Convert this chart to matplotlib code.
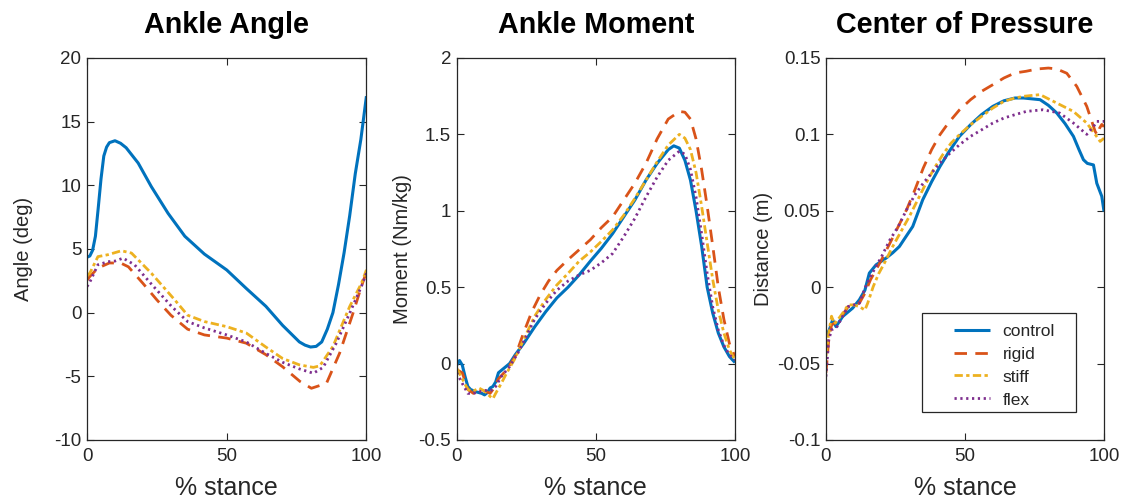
import numpy as np
import matplotlib
matplotlib.use("Agg")
import matplotlib.pyplot as plt
from matplotlib.patches import Rectangle

plt.rcParams['font.family'] = ['Liberation Sans', 'DejaVu Sans']

# ---------------- data ----------------
# Panel 1: Ankle Angle (deg)
ang_ctrl_x = [0, 1, 2, 3, 4, 5, 6, 7, 8, 10, 12, 14, 18.3, 23, 29, 35, 42, 50, 57, 64, 70, 76, 78, 80, 82, 84, 86, 88, 90, 92, 94, 96, 98, 100]
ang_ctrl_y = [4.35, 4.45, 4.9, 6.0, 8.2, 10.5, 12.3, 13.0, 13.35, 13.5, 13.3, 12.95, 11.75, 9.9, 7.8, 6.0, 4.6, 3.35, 1.9, 0.5, -1.0, -2.3, -2.55, -2.7, -2.65, -2.3, -1.3, 0.0, 2.2, 4.7, 7.6, 10.9, 13.6, 17.0]

ang_stiff_x = [0, 1, 3.9, 7.5, 12.3, 15.9, 23, 31.4, 36, 42, 50, 57, 64, 70, 76, 81, 83.3, 88, 94, 98.2, 100]
ang_stiff_y = [2.9, 3.1, 4.4, 4.55, 4.86, 4.68, 3.1, 1.0, -0.2, -0.7, -1.1, -1.6, -2.7, -3.6, -4.1, -4.3, -4.18, -2.66, 0.48, 2.3, 3.36]

ang_flex_x = [0, 1, 3.9, 7.5, 10, 12.9, 17, 23, 30.3, 36, 42, 50, 57, 64, 70, 76, 81, 84.5, 89.2, 94, 98.2, 100]
ang_flex_y = [2.05, 2.4, 3.76, 4.0, 4.05, 4.28, 3.76, 2.25, 0.48, -0.7, -1.2, -1.75, -2.3, -3.2, -3.9, -4.42, -4.76, -4.3, -2.4, -0.04, 2.06, 3.1]

ang_rigid_x = [0, 1, 3.9, 8, 12, 14.8, 20, 25, 30, 36, 42, 50, 57, 64, 70, 76.2, 80.3, 85.7, 90.4, 95.2, 98.2, 100]
ang_rigid_y = [2.55, 2.84, 3.5, 3.9, 3.9, 3.6, 2.3, 1.0, -0.2, -1.3, -1.75, -2.0, -2.4, -3.3, -4.25, -5.4, -5.94, -5.55, -3.18, -0.04, 2.06, 3.2]

# Panel 2: Ankle Moment (Nm/kg)
mom_ctrl_x = [0, 1, 2, 3, 4, 5, 7, 9, 10, 11, 12, 13, 14, 15, 17, 19, 21, 24, 28, 32, 36, 40, 44, 48, 52, 56, 60, 64, 68, 72, 76, 78, 80, 82, 84, 86, 88, 90, 92, 94, 96, 98, 100]
mom_ctrl_y = [-0.01, 0.02, -0.01, -0.085, -0.15, -0.17, -0.185, -0.195, -0.205, -0.19, -0.16, -0.15, -0.12, -0.06, -0.03, 0.0, 0.057, 0.13, 0.24, 0.34, 0.43, 0.50, 0.58, 0.67, 0.755, 0.85, 0.96, 1.07, 1.20, 1.31, 1.40, 1.425, 1.41, 1.33, 1.2, 1.0, 0.77, 0.50, 0.33, 0.2, 0.11, 0.046, 0.007]

mom_rigid_x = [0, 2, 4, 6, 8, 10, 12, 13, 15, 18, 21, 24, 27, 30, 33, 36, 40, 44, 48, 52, 56, 60, 64, 68, 72, 76, 80, 82, 84, 86, 88, 90, 92, 94, 96, 98, 100]
mom_rigid_y = [-0.04, -0.06, -0.17, -0.195, -0.17, -0.18, -0.195, -0.17, -0.1, -0.04, 0.046, 0.2, 0.34, 0.45, 0.54, 0.61, 0.68, 0.745, 0.81, 0.89, 0.96, 1.07, 1.18, 1.31, 1.47, 1.60, 1.65, 1.645, 1.60, 1.47, 1.27, 1.03, 0.77, 0.50, 0.29, 0.13, 0.046]

mom_stiff_x = [0, 2, 4, 6, 8, 10, 12, 13, 14, 16, 18, 21, 24, 28, 32, 36, 40, 44, 48, 52, 56, 60, 64, 68, 72, 76, 80, 82, 84, 86, 88, 90, 92, 94, 96, 98, 100]
mom_stiff_y = [-0.03, -0.1, -0.17, -0.18, -0.16, -0.18, -0.215, -0.23, -0.195, -0.13, -0.06, 0.035, 0.155, 0.31, 0.42, 0.515, 0.59, 0.67, 0.73, 0.80, 0.875, 0.97, 1.08, 1.20, 1.32, 1.43, 1.50, 1.475, 1.40, 1.25, 1.03, 0.79, 0.55, 0.35, 0.2, 0.09, 0.024]

mom_flex_x = [0, 2, 4, 6, 8, 10, 12, 14, 16, 19, 22, 25, 28, 32, 36, 40, 44, 48, 52, 56, 60, 64, 68, 72, 76, 80, 82, 84, 86, 88, 90, 92, 94, 96, 98, 100]
mom_flex_y = [-0.06, -0.13, -0.195, -0.195, -0.185, -0.175, -0.18, -0.15, -0.085, -0.02, 0.07, 0.18, 0.29, 0.395, 0.48, 0.54, 0.58, 0.61, 0.66, 0.72, 0.83, 0.95, 1.09, 1.22, 1.33, 1.39, 1.37, 1.27, 1.09, 0.85, 0.59, 0.37, 0.22, 0.12, 0.057, 0.024]

# Panel 3: Center of Pressure (m)
cop_ctrl_x = [0, 1.2, 2.4, 3.6, 6, 9.6, 12, 14, 15.6, 18, 21.6, 24, 26.4, 28, 31.2, 34.8, 38, 41, 44, 48, 52, 56, 60, 64, 68, 71, 77, 80, 83, 86, 89, 91, 92.6, 94, 96.2, 97.4, 99.2, 100]
cop_ctrl_y = [-0.032, -0.028, -0.0214, -0.0258, -0.0192, -0.0137, -0.0083, -0.002, 0.0092, 0.0146, 0.019, 0.0225, 0.0266, 0.031, 0.0397, 0.0572, 0.0690, 0.0790, 0.0880, 0.0987, 0.1063, 0.113, 0.1183, 0.122, 0.1238, 0.1238, 0.1227, 0.119, 0.114, 0.107, 0.0987, 0.090, 0.0834, 0.081, 0.080, 0.068, 0.0594, 0.0495]

cop_rigid_x = [0, 1, 2, 4, 6, 8, 10, 12, 14, 16, 18, 20, 23, 26, 29, 32, 35, 38, 41, 44, 48, 52, 56, 60, 64, 68, 72, 76, 80, 83, 86.6, 90.2, 93.8, 96.8, 97.6, 98.4, 99.2, 100]
cop_rigid_y = [-0.056, -0.0345, -0.0247, -0.0225, -0.018, -0.0127, -0.0116, -0.0105, -0.004, 0.0048, 0.0114, 0.018, 0.0288, 0.0397, 0.0507, 0.0638, 0.078, 0.09, 0.0998, 0.1074, 0.116, 0.1227, 0.1282, 0.1325, 0.1369, 0.1402, 0.1413, 0.1428, 0.1434, 0.1428, 0.140, 0.1314, 0.1183, 0.102, 0.0995, 0.104, 0.1065, 0.105]

cop_stiff_x = [0, 1, 2, 3, 4, 6, 8, 10, 12, 14, 15, 17, 19, 21, 24, 27, 30, 33, 36, 39, 42, 45, 48, 52, 56, 60, 64, 68, 71, 77, 83, 89, 93.8, 96.8, 98.6, 100]
cop_stiff_y = [-0.045, -0.03, -0.019, -0.024, -0.022, -0.017, -0.0116, -0.0116, -0.0127, -0.015, -0.0105, 0.0004, 0.009, 0.0157, 0.0266, 0.0365, 0.0463, 0.0572, 0.0681, 0.078, 0.0867, 0.0943, 0.0998, 0.1063, 0.1118, 0.1172, 0.1216, 0.1238, 0.1249, 0.126, 0.1205, 0.115, 0.1074, 0.100, 0.0954, 0.0975]

cop_flex_x = [0, 1, 2, 4, 6, 8, 10, 12, 14, 16, 18, 20, 23, 26, 29, 32, 35, 38, 41, 44, 48, 52, 56, 60, 64, 68, 72, 78, 84, 89, 93.8, 96.2, 97.4, 100]
cop_flex_y = [-0.0585, -0.0345, -0.028, -0.0258, -0.019, -0.0127, -0.0116, -0.0105, -0.0007, 0.007, 0.0135, 0.02, 0.031, 0.0397, 0.0507, 0.0605, 0.0681, 0.0747, 0.0812, 0.0867, 0.0932, 0.0987, 0.103, 0.1074, 0.1107, 0.1129, 0.115, 0.1161, 0.114, 0.1074, 0.100, 0.105, 0.1085, 0.1085]

titles = ["Ankle Angle", "Ankle Moment", "Center of Pressure"]
ylabels = ["Angle (deg)", "Moment (Nm/kg)", "Distance (m)"]
xlabel = "% stance"
series_names = ["control", "rigid", "stiff", "flex"]
xticks = [0, 50, 100]
yticks_list = [[-10, -5, 0, 5, 10, 15, 20],
               [-0.5, 0, 0.5, 1, 1.5, 2],
               [-0.1, -0.05, 0, 0.05, 0.1, 0.15]]
yticklabels_list = [["-10", "-5", "0", "5", "10", "15", "20"],
                    ["-0.5", "0", "0.5", "1", "1.5", "2"],
                    ["-0.1", "-0.05", "0", "0.05", "0.1", "0.15"]]

panels = [
    [(ang_ctrl_x, ang_ctrl_y), (ang_rigid_x, ang_rigid_y), (ang_stiff_x, ang_stiff_y), (ang_flex_x, ang_flex_y)],
    [(mom_ctrl_x, mom_ctrl_y), (mom_rigid_x, mom_rigid_y), (mom_stiff_x, mom_stiff_y), (mom_flex_x, mom_flex_y)],
    [(cop_ctrl_x, cop_ctrl_y), (cop_rigid_x, cop_rigid_y), (cop_stiff_x, cop_stiff_y), (cop_flex_x, cop_flex_y)],
]

# ---------------- styles ----------------
colors = ["#0072BD", "#D95319", "#EDB120", "#7E2F8E"]
dashes = [None, (4.5, 3.0), (3.0, 1.2, 1.2, 1.2), (0.8, 1.3)]
lws = [2.2, 2.0, 2.0, 2.0]
ylabel_x = [-0.194, -0.16, -0.19]
axes_rects = [[0.0775, 0.1218, 0.2488, 0.7625],
              [0.4067, 0.1218, 0.2478, 0.7625],
              [0.7355, 0.1218, 0.2476, 0.7625]]
axcol = "#262626"

fig = plt.figure(figsize=(11.23, 5.01), dpi=100)

for i in range(3):
    ax = fig.add_axes(axes_rects[i])
    handles = []
    for j, (xs, ys) in enumerate(panels[i]):
        ln, = ax.plot(xs, ys, color=colors[j], lw=lws[j], label=series_names[j],
                      solid_capstyle='butt', dash_capstyle='butt')
        if dashes[j] is not None:
            ln.set_dashes(dashes[j])
        handles.append(ln)
    ax.set_xlim(0, 100)
    ax.set_ylim(yticks_list[i][0], yticks_list[i][-1])
    ax.set_xticks(xticks)
    ax.set_xticklabels([str(t) for t in xticks])
    ax.set_yticks(yticks_list[i])
    ax.set_yticklabels(yticklabels_list[i])
    ax.tick_params(direction='in', top=True, right=True, length=5, width=0.8,
                   labelsize=13.5, colors=axcol, pad=4)
    ax.tick_params(axis='x', pad=6)
    for sp in ax.spines.values():
        sp.set_color(axcol)
        sp.set_linewidth(0.9)
    ax.set_title(titles[i], fontsize=20.7, fontweight='bold', pad=18, color='black')
    ax.set_xlabel(xlabel, fontsize=18, labelpad=8, color=axcol)
    ax.set_ylabel(ylabels[i], fontsize=14.5, color=axcol)
    ax.yaxis.set_label_coords(ylabel_x[i], 0.5)
    if i == 2:
        ax.add_patch(Rectangle((0.344, 0.074), 0.898 - 0.344, 0.3335 - 0.074,
                               transform=ax.transAxes, fill=True, facecolor='white',
                               edgecolor=axcol, lw=0.9, zorder=4))
        leg = ax.legend(handles=handles, loc='center left', bbox_to_anchor=(0.46, 0.195),
                        fontsize=12.5, frameon=False, handlelength=2.1,
                        borderpad=0.0, borderaxespad=0.0, labelspacing=0.45,
                        handletextpad=0.7)
        leg.set_zorder(5)
        for t in leg.get_texts():
            t.set_color(axcol)

fig.savefig("out.png", dpi=100)
